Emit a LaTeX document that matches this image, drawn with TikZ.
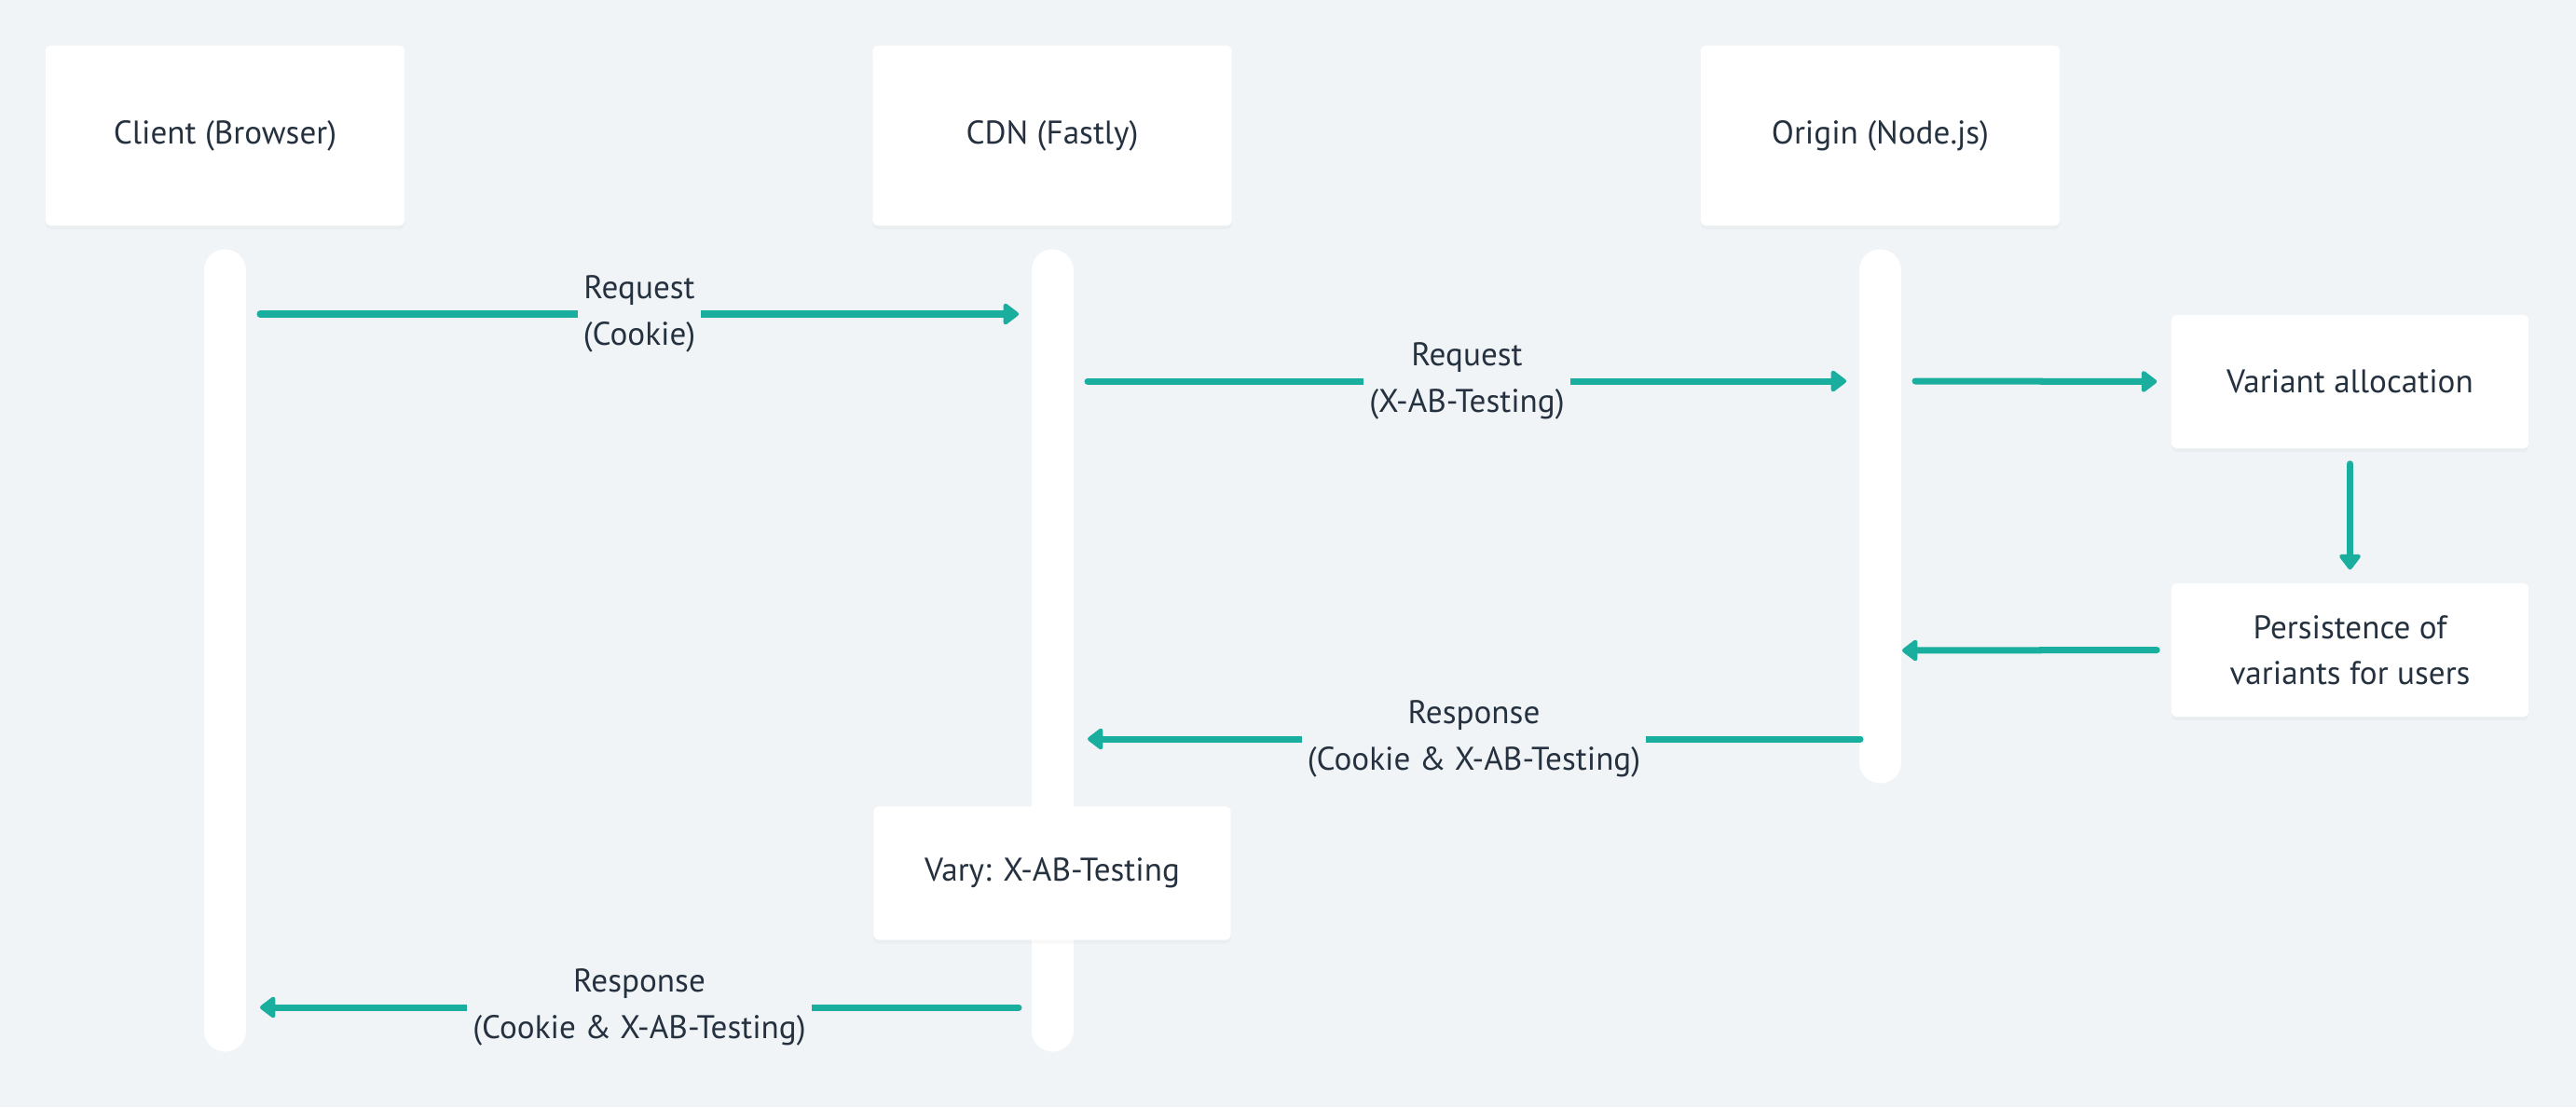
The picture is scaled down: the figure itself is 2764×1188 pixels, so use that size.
\documentclass[tikz,border=0pt]{standalone}
\usepackage{fontspec}
\setmainfont{PT Sans}
\usetikzlibrary{arrows.meta,shadows}
\definecolor{bgcol}{HTML}{F0F4F7}
\definecolor{txtcol}{HTML}{25313F}
\definecolor{flowcol}{HTML}{1AAE9F}
\begin{document}
\begin{tikzpicture}[x=0.01cm, y=-0.01cm,
  font=\fontsize{10}{14}\selectfont, text=txtcol,
  box/.style={fill=white, rounded corners=0.05cm, align=center,
    drop shadow={shadow xshift=0cm, shadow yshift=-0.04cm, opacity=0.05}},
  actor/.style={box, minimum width=3.85cm, minimum height=1.93cm},
  stepbox/.style={box, minimum width=3.83cm, minimum height=1.43cm},
  life/.style={white, line width=0.45cm, line cap=round},
  flow/.style={flowcol, line width=0.07cm, line cap=round,
    -{Triangle[length=0.18cm, width=0.26cm, round]}},
  lbl/.style={fill=bgcol, text=txtcol, align=center, inner xsep=0.06cm, inner ysep=0cm}]
\fill[bgcol] (0,0) rectangle (2764,1188);
\node[actor] (client) at (241.5,145.5) {Client (Browser)};
\node[actor] (cdn) at (1129,145.5) {CDN (Fastly)};
\node[actor] (origin) at (2017.5,145.5) {Origin (Node.js)};
\coordinate (clientTop) at (241.5,290);
\coordinate (clientEnd) at (241.5,1106);
\coordinate (cdnTop) at (1129,290);
\coordinate (cdnEnd) at (1129,1106);
\coordinate (originTop) at (2017.5,290);
\coordinate (originEnd) at (2017.5,818);
\draw[life] (clientTop) -- (clientEnd);
\draw[life] (cdnTop) -- (cdnEnd);
\draw[life] (originTop) -- (originEnd);
\node[stepbox] (vary) at (1129,937) {Vary: X-AB-Testing};
\node[stepbox] (alloc) at (2521.5,409.5) {Variant allocation};
\node[stepbox] (persist) at (2521.5,697.5) {Persistence of\\variants for users};
\coordinate (req1a) at (279,337);
\coordinate (req1b) at (1093,337);
\coordinate (req2a) at (1167,409);
\coordinate (req2b) at (1981,409);
\coordinate (originOut) at (2055,409);
\coordinate (originIn) at (2041,698);
\coordinate (res1a) at (1996,793);
\coordinate (res1b) at (1167,793);
\coordinate (res2a) at (1093,1081);
\coordinate (res2b) at (279,1081);
\draw[flow] (req1a) -- (req1b) node[midway, lbl] {Request\\(Cookie)};
\draw[flow] (req2a) -- (req2b) node[midway, lbl] {Request\\(X-AB-Testing)};
\draw[flow, shorten >=0.15cm] (originOut) -- (alloc.west);
\draw[flow, shorten <=0.16cm, shorten >=0.14cm] (alloc.south) -- (persist.north);
\draw[flow, shorten <=0.15cm] (persist.west) -- (originIn);
\draw[flow] (res1a) -- (res1b) node[midway, lbl] {Response\\(Cookie \& X-AB-Testing)};
\draw[flow] (res2a) -- (res2b) node[midway, lbl] {Response\\(Cookie \& X-AB-Testing)};
\end{tikzpicture}
\end{document}
